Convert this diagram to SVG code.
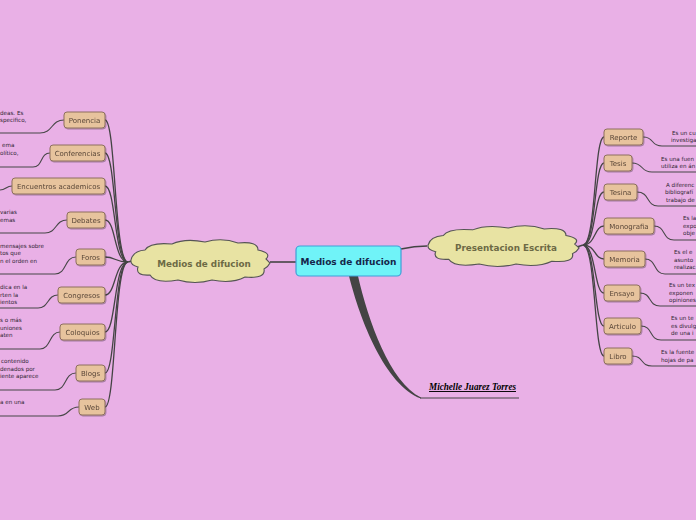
<svg xmlns="http://www.w3.org/2000/svg" xmlns:xlink="http://www.w3.org/1999/xlink" width="696" height="520" viewBox="0 0 696 520">
<style>
.bg{fill:#e9b0e6}
.cn{fill:none;stroke:#474747;stroke-width:1.1}
.hub{fill:none;stroke:#444;stroke-width:1.3}
.nd rect{fill:#e7c39d;stroke:#8d6f5e;stroke-width:1}
.nd text{font-family:"DejaVu Sans",sans-serif;font-size:7px;fill:#5a4738;text-anchor:middle}
.tx{font-family:"DejaVu Sans",sans-serif;font-size:5.6px;fill:#2e2430}
.cl{font-family:"DejaVu Sans",sans-serif;font-size:8.8px;font-weight:bold;fill:#6d6a45;text-anchor:middle}
.cloud{fill:#e8e3a3;stroke:#555;stroke-width:1.1}
</style>
<defs>
<filter id="sh" x="-20%" y="-20%" width="140%" height="160%"><feDropShadow dx="0.8" dy="1" stdDeviation="0.6" flood-color="#000" flood-opacity="0.3"/></filter>
<path id="cloud" d="M-69,-1 Q-67,-10 -55,-11 Q-50,-19 -28,-17 Q-15,-23 5,-19 Q22,-24 38,-18 Q58,-20 58,-11 Q72,-8 66,-2 L70,2 Q68,6 64,8 Q66,18 45,16 Q32,23 12,19 Q-5,24 -22,19 Q-45,23 -50,14 Q-65,15 -62,6 Q-70,4 -69,-1 Z"/>
</defs>
<rect class="bg" x="0" y="0" width="696" height="520"/>

<g id="connectors">
<path d="M296,262 L270,262" fill="none" stroke="#444" stroke-width="1.6"/>
<path d="M401,249 C410,247 418,246 427,246" fill="none" stroke="#444" stroke-width="1.6"/>
<path d="M349,276 C360,320 385,385 421,398.6 L421,397.4 C390,383 368,320 358,276 Z" fill="#444"/>
<path d="M420,398 L519,398" fill="none" stroke="#444" stroke-width="1"/>
<!-- left hub -->
<path class="hub" d="M105,120 C116,120 114,262 128,262"/>
<path class="hub" d="M105,153 C116,153 114,262 128,262"/>
<path class="hub" d="M105,186 C116,186 114,262 128,262"/>
<path class="hub" d="M105,220 C116,220 114,262 128,262"/>
<path class="hub" d="M105,257 C116,257 114,262 128,262"/>
<path class="hub" d="M105,295 C116,295 114,262 128,262"/>
<path class="hub" d="M105,332 C116,332 114,262 128,262"/>
<path class="hub" d="M105,373 C116,373 114,262 128,262"/>
<path class="hub" d="M105,407 C116,407 114,262 128,262"/>
<path d="M128,262 L132,261" fill="none" stroke="#444" stroke-width="1.6"/>
<!-- right hub -->
<path class="hub" d="M583,245 C596,245 594,137 604,137"/>
<path class="hub" d="M583,245 C596,245 594,163 604,163"/>
<path class="hub" d="M583,245 C596,245 594,192 604,192"/>
<path class="hub" d="M583,245 C596,245 594,226 604,226"/>
<path class="hub" d="M583,245 C596,245 594,259 604,259"/>
<path class="hub" d="M583,245 C596,245 594,293 604,293"/>
<path class="hub" d="M583,245 C596,245 594,326 604,326"/>
<path class="hub" d="M583,245 C596,245 594,356 604,356"/>
<path d="M577,247 L583,245" fill="none" stroke="#444" stroke-width="1.6"/>
<!-- left leaves -->
<path class="cn" d="M64,120 C51,120 53,133 40,133 L0,133"/>
<path class="cn" d="M50,153 C40,153 43,167 33,167 L0,167"/>
<path class="cn" d="M12,186 C6,186 6,190 0,190"/>
<path class="cn" d="M67,220 C55,220 57,233 45,233 L0,233"/>
<path class="cn" d="M76,257 C64,257 67,274 55,274 L0,274"/>
<path class="cn" d="M58,295 C47,295 49,308 38,308 L0,308"/>
<path class="cn" d="M60,332 C49,332 51,349 40,349 L0,349"/>
<path class="cn" d="M76,373 C64,373 67,390 55,390 L0,390"/>
<path class="cn" d="M79,407 C67,407 70,416 58,416 L0,416"/>
<!-- right leaves -->
<path class="cn" d="M643,137 C655,137 650,146 662,146 L696,146"/>
<path class="cn" d="M632,163 C644,163 640,172 652,172 L696,172"/>
<path class="cn" d="M637,192 C650,192 646,206 658,206 L696,206"/>
<path class="cn" d="M654,226 C666,226 662,240 674,240 L696,240"/>
<path class="cn" d="M645,259 C657,259 653,274 665,274 L696,274"/>
<path class="cn" d="M640,293 C652,293 648,306 660,306 L696,306"/>
<path class="cn" d="M641,326 C653,326 649,340 661,340 L696,340"/>
<path class="cn" d="M632,356 C644,356 640,366 652,366 L696,366"/>
</g>

<g id="center">
<rect x="296" y="246" width="105" height="30" rx="4" fill="#70f3f8" stroke="#3f9fd8" stroke-width="1.2"/>
<text x="348.5" y="264.5" text-anchor="middle" font-family="DejaVu Sans, sans-serif" font-size="9" font-weight="bold" fill="#15264a">Medios de difucion</text>
</g>

<g id="cloud-left">
<use xlink:href="#cloud" class="cloud" transform="translate(200,261)"/>
<text class="cl" x="204" y="267">Medios de difucion</text>
</g>
<g id="cloud-right">
<use xlink:href="#cloud" class="cloud" transform="translate(503,246) scale(1.086,0.95)"/>
<text class="cl" x="506" y="251">Presentacion Escrita</text>
</g>

<g id="author">
<text x="429" y="390" font-family="Liberation Serif, serif" font-style="italic" font-weight="bold" font-size="9.5" fill="#000" text-decoration="underline" textLength="87" lengthAdjust="spacingAndGlyphs">Michelle Juarez Torres</text>
</g>

<g id="ponencia" class="nd" filter="url(#sh)"><rect x="64" y="112" width="41" height="16" rx="3"/><text x="84.5" y="122.5">Ponencia</text></g>
<g id="conferencias" class="nd" filter="url(#sh)"><rect x="50" y="145" width="55" height="16" rx="3"/><text x="77.5" y="155.5">Conferencias</text></g>
<g id="encuentros" class="nd" filter="url(#sh)"><rect x="12" y="178" width="93" height="16" rx="3"/><text x="58.5" y="188.5">Encuentros academicos</text></g>
<g id="debates" class="nd" filter="url(#sh)"><rect x="67" y="212" width="38" height="16" rx="3"/><text x="86" y="222.5">Debates</text></g>
<g id="foros" class="nd" filter="url(#sh)"><rect x="76" y="249" width="29" height="16" rx="3"/><text x="90.5" y="259.5">Foros</text></g>
<g id="congresos" class="nd" filter="url(#sh)"><rect x="58" y="287" width="47" height="16" rx="3"/><text x="81.5" y="297.5">Congresos</text></g>
<g id="coloquios" class="nd" filter="url(#sh)"><rect x="60" y="324" width="45" height="16" rx="3"/><text x="82.5" y="334.5">Coloquios</text></g>
<g id="blogs" class="nd" filter="url(#sh)"><rect x="76" y="365" width="29" height="16" rx="3"/><text x="90.5" y="375.5">Blogs</text></g>
<g id="web" class="nd" filter="url(#sh)"><rect x="79" y="399" width="26" height="16" rx="3"/><text x="92" y="409.5">Web</text></g>

<g id="reporte" class="nd" filter="url(#sh)"><rect x="604" y="129" width="39" height="16" rx="3"/><text x="623.5" y="139.5">Reporte</text></g>
<g id="tesis" class="nd" filter="url(#sh)"><rect x="604" y="155" width="28" height="16" rx="3"/><text x="618" y="165.5">Tesis</text></g>
<g id="tesina" class="nd" filter="url(#sh)"><rect x="604" y="184" width="33" height="16" rx="3"/><text x="620.5" y="194.5">Tesina</text></g>
<g id="monografia" class="nd" filter="url(#sh)"><rect x="604" y="218" width="50" height="16" rx="3"/><text x="629" y="228.5">Monografia</text></g>
<g id="memoria" class="nd" filter="url(#sh)"><rect x="604" y="251" width="41" height="16" rx="3"/><text x="624.5" y="261.5">Memoria</text></g>
<g id="ensayo" class="nd" filter="url(#sh)"><rect x="604" y="285" width="36" height="16" rx="3"/><text x="622" y="295.5">Ensayo</text></g>
<g id="articulo" class="nd" filter="url(#sh)"><rect x="604" y="318" width="37" height="16" rx="3"/><text x="622.5" y="328.5">Articulo</text></g>
<g id="libro" class="nd" filter="url(#sh)"><rect x="604" y="348" width="28" height="16" rx="3"/><text x="618" y="358.5">Libro</text></g>

<g id="texts">
<text class="tx" x="0" y="114.5">deas. Es</text>
<text class="tx" x="0" y="121.5">specifico,</text>
<text class="tx" x="2" y="147">ema</text>
<text class="tx" x="0" y="154.5">olítico,</text>
<text class="tx" x="0" y="214">varias</text>
<text class="tx" x="0" y="221.5">emas</text>
<text class="tx" x="0" y="247.5">mensajes sobre</text>
<text class="tx" x="0" y="255">tos que</text>
<text class="tx" x="0" y="262.5">n el orden en</text>
<text class="tx" x="0" y="289">dica en la</text>
<text class="tx" x="0" y="296.5">rten la</text>
<text class="tx" x="0" y="304">ientos</text>
<text class="tx" x="0" y="322">s o más</text>
<text class="tx" x="0" y="329.5">uniones</text>
<text class="tx" x="0" y="337">aten</text>
<text class="tx" x="1" y="363">contenido</text>
<text class="tx" x="0" y="370.5">denados por</text>
<text class="tx" x="0" y="378">iente aparece</text>
<text class="tx" x="0" y="404">a en una</text>

<text class="tx" x="672" y="135">Es un cu</text>
<text class="tx" x="671" y="142">investiga</text>
<text class="tx" x="661" y="161">Es una fuen</text>
<text class="tx" x="661" y="168">utiliza en án</text>
<text class="tx" x="666" y="187">A diferenc</text>
<text class="tx" x="665" y="194">bibliografí</text>
<text class="tx" x="666" y="201.5">trabajo de</text>
<text class="tx" x="683" y="220">Es la</text>
<text class="tx" x="683" y="227.5">expo</text>
<text class="tx" x="683" y="235">obje</text>
<text class="tx" x="674" y="254">Es el e</text>
<text class="tx" x="674" y="261.5">asunto</text>
<text class="tx" x="674" y="269">realizac</text>
<text class="tx" x="669" y="287">Es un tex</text>
<text class="tx" x="669" y="294.5">exponen</text>
<text class="tx" x="669" y="302">opiniones</text>
<text class="tx" x="671" y="320">Es un te</text>
<text class="tx" x="671" y="327.5">es divulg</text>
<text class="tx" x="671" y="335">de una i</text>
<text class="tx" x="661" y="354">Es la fuente</text>
<text class="tx" x="661" y="361.5">hojas de pa</text>
</g>
</svg>
